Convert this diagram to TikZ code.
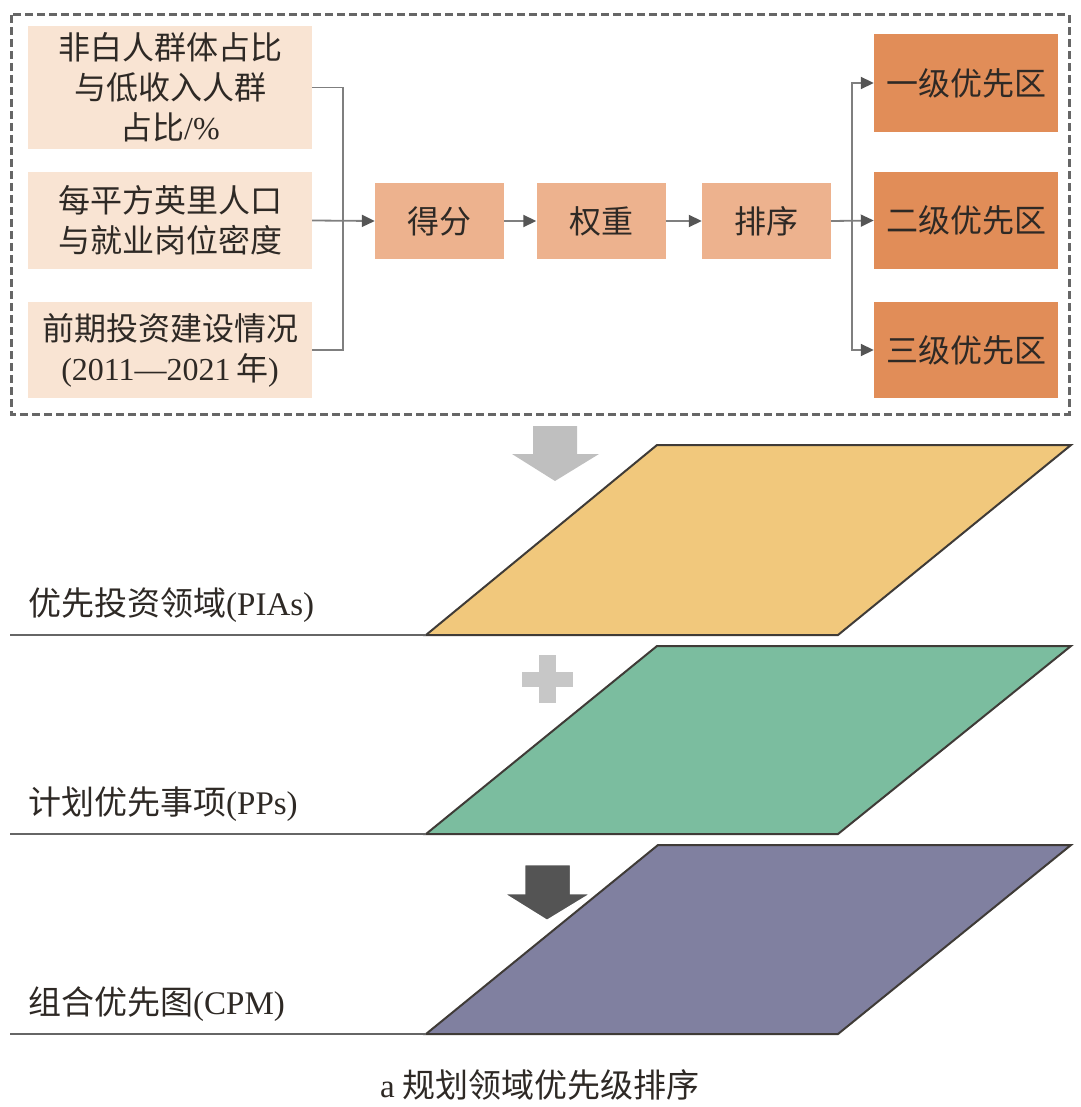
\documentclass[tikz,border=0pt]{standalone}
\usepackage{fontspec}
\setmainfont{Liberation Serif}
\newfontfamily\cjk{Noto Sans CJK SC}
\usetikzlibrary{arrows.meta}
\newcommand\zh[1]{{\cjk #1}}
\definecolor{lightbox}{HTML}{F9E4D3}
\definecolor{midbox}{HTML}{EDB28E}
\definecolor{darkbox}{HTML}{E18D58}
\definecolor{txt}{HTML}{2E2925}
\definecolor{conncol}{HTML}{7F7F7F}
\definecolor{tipcol}{HTML}{555555}
\definecolor{yel}{HTML}{F1C87C}
\definecolor{grn}{HTML}{7BBD9F}
\definecolor{pur}{HTML}{8080A0}
\definecolor{edgecol}{HTML}{3F3B37}
\tikzset{
  boxtxt/.style={font=\fontsize{32}{40}\selectfont, text=txt, align=center, inner sep=0pt},
  lbox/.style={boxtxt, fill=lightbox, minimum width=284pt},
  mbox/.style={boxtxt, fill=midbox, minimum width=129pt, minimum height=75pt},
  rbox/.style={boxtxt, fill=darkbox, minimum width=184pt},
  conn/.style={draw=conncol, line width=1.8pt},
  arr/.style={conn, -{Triangle[length=13pt,width=12pt,color=tipcol]}},
  para/.style={draw=edgecol, line width=2pt, line join=miter},
  baseln/.style={draw=black!60, line width=1.5pt},
  lab/.style={font=\fontsize{33}{40}\selectfont, text=txt, anchor=west, inner sep=0pt},
  dashbox/.style={draw=black!60, line width=3pt, dash pattern=on 8pt off 4pt}
}
\begin{document}
\begin{tikzpicture}[x=1pt, y=-1pt]
\useasboundingbox (0,0) rectangle (1080,1107);
% dashed frame
\draw[dashbox] (11,15) rectangle (1069,414);
% left input boxes
\node[lbox, minimum height=123pt] (b1) at (170,87.5) {\zh{非白人群体占比}\\\zh{与低收入人群}\\\zh{占比}/\%};
\node[lbox, minimum height=97pt] (b2) at (170,220.5) {\zh{每平方英里人口}\\\zh{与就业岗位密度}};
\node[lbox, minimum height=96pt] (b3) at (170,350) {\zh{前期投资建设情况}\\(2011—2021\,\zh{年})};
% middle boxes
\node[mbox] (s) at (439.5,221) {\zh{得分}};
\node[mbox] (w) at (601,221) {\zh{权重}};
\node[mbox] (r) at (766.5,221) {\zh{排序}};
% right boxes
\node[rbox, minimum height=98pt] (p1) at (966,83) {\zh{一级优先区}};
\node[rbox, minimum height=97pt] (p2) at (966,220.5) {\zh{二级优先区}};
\node[rbox, minimum height=96pt] (p3) at (966,350) {\zh{三级优先区}};
% connectors
\coordinate (jl) at (343,221);
\coordinate (jr) at (852,221);
\draw[conn] (b1.east) -| (jl) |- (b3.east);
\draw[arr] (b2.east) -- (s.west);
\draw[arr] (s.east) -- (w.west);
\draw[arr] (w.east) -- (r.west);
\draw[arr] (r.east) -- (p2.west);
\draw[arr] (jr) |- (p1.west);
\draw[arr] (jr) |- (p3.west);
% gray down arrow
\fill[black!25] (533,426) -- (577,426) -- (577,454) -- (599,454) -- (555,481) -- (512,454) -- (533,454) -- cycle;
% layer 1
\draw[para, fill=yel] (657,445) -- (1071,445) -- (838,635) -- (426,635) -- cycle;
\draw[baseln] (10,635) -- (426,635);
\node[lab] (l1) at (28,605) {\zh{优先投资领域}(PIAs)};
% plus
\fill[black!22] (539,655) rectangle (556,703);
\fill[black!22] (522,672) rectangle (573,687);
% layer 2
\draw[para, fill=grn] (657,646) -- (1071,646) -- (838,834) -- (426,834) -- cycle;
\draw[baseln] (10,834) -- (426,834);
\node[lab] (l2) at (28,804) {\zh{计划优先事项}(PPs)};
% layer 3
\draw[para, fill=pur] (658,845) -- (1071,845) -- (838,1034) -- (426,1034) -- cycle;
\draw[baseln] (10,1034) -- (426,1034);
\node[lab] (l3) at (28,1004) {\zh{组合优先图}(CPM)};
% dark arrow
\filldraw[fill=black!67, draw=white, line width=2.5pt] (524,864) -- (571,864) -- (571,893) -- (593,893) -- (547,921) -- (502,893) -- (524,893) -- cycle;
% caption
\node[font=\fontsize{33}{40}\selectfont, text=txt, inner sep=0pt] (cap) at (540,1085) {a \zh{规划领域优先级排序}};
\end{tikzpicture}
\end{document}
